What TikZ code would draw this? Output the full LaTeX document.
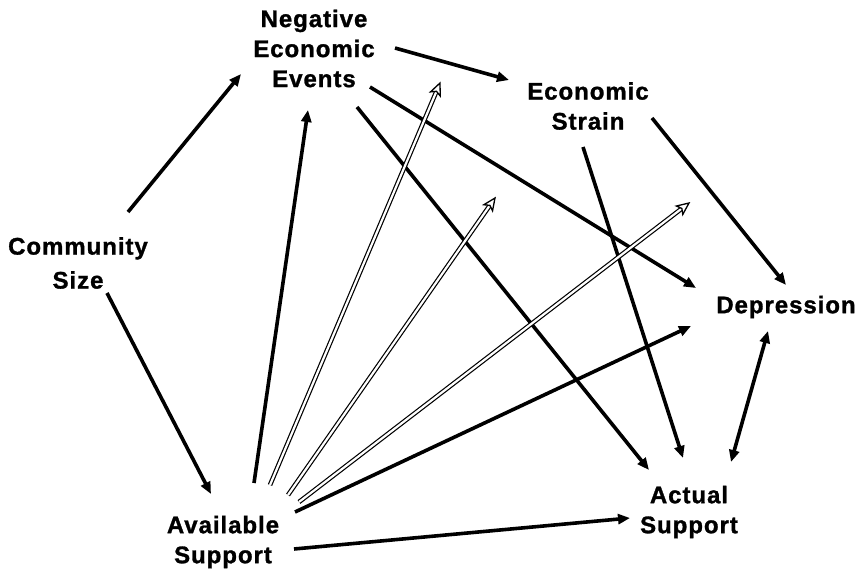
\documentclass[tikz,border=0pt]{standalone}
\usepackage{fontspec}
\setmainfont{Liberation Sans}[LetterSpace=4, BoldFeatures={FakeBold=1.2}]
\usetikzlibrary{arrows.meta,calc}
\begin{document}
\begin{tikzpicture}[x=1pt,y=-1pt,
  lbl/.style={font=\fontsize{24}{30}\selectfont\bfseries, align=center, inner sep=0pt},
  arr/.style={line width=3.6pt, -{Triangle[length=12pt,width=10pt]}},
  darr/.style={line width=3.6pt, {Triangle[length=12pt,width=10pt]}-{Triangle[length=12pt,width=10pt]}},
  hshaft/.style={line width=1.2pt, double=white, double distance=2.2pt, shorten >=9pt},
  hhead/.style={line width=1.3pt, fill=white, line join=miter}]
\useasboundingbox (0,0) rectangle (862,568);

\node[lbl] (nee) at (314,48.5) {Negative\\Economic\\Events};
\node[lbl] (es) at (588,106) {Economic\\Strain};
\node[lbl, font=\fontsize{24}{34}\selectfont\bfseries] (cs) at (78,263) {Community\\Size};
\node[lbl] (dep) at (786,307) {Depression};
\node[lbl] (acs) at (689,512) {Actual\\Support};
\node[lbl] (avs) at (223,542) {Available\\Support};

\coordinate (h1) at (440,83);
\coordinate (h2) at (495,198);
\coordinate (h3) at (689,203);
\coordinate (s1) at ($(avs)+(47,-57)$);
\coordinate (s2) at ($(avs)+(65,-47)$);
\coordinate (s3) at ($(avs)+(76,-40)$);

\draw[arr] ($(cs)+(50,-51)$) -- ($(nee)+(-73,25.5)$);
\draw[arr] ($(cs)+(29,30)$) -- ($(avs)+(-12,-48)$);
\draw[arr] ($(avs)+(31,-59)$) -- ($(nee)+(-6,61.5)$);
\draw[arr] ($(nee)+(81,-0.5)$) -- ($(es)+(-79,-26)$);
\draw[arr] ($(nee)+(56,38.5)$) -- ($(dep)+(-90,-19)$);
\draw[arr] ($(nee)+(43,58.5)$) -- ($(acs)+(-40,-42)$);
\draw[arr] ($(es)+(-5,41)$) -- ($(acs)+(-6,-54)$);
\draw[arr] ($(es)+(64,12)$) -- ($(dep)+(0,-22)$);
\draw[darr] ($(dep)+(-18,24)$) -- ($(acs)+(42,-50)$);
\draw[arr] ($(avs)+(71,7)$) -- ($(acs)+(-59,6)$);
\draw[arr] ($(avs)+(72,-30)$) -- ($(dep)+(-95,19)$);

\foreach \h/\s in {h1/s1, h2/s2, h3/s3} {
  \draw[hshaft] (\s) -- (\h);
  \draw[hhead] (\h) -- ($(\h)!13pt!24:(\s)$) -- ($(\h)!9pt!(\s)$)
    -- ($(\h)!13pt!-24:(\s)$) -- cycle;
}
\end{tikzpicture}
\end{document}
